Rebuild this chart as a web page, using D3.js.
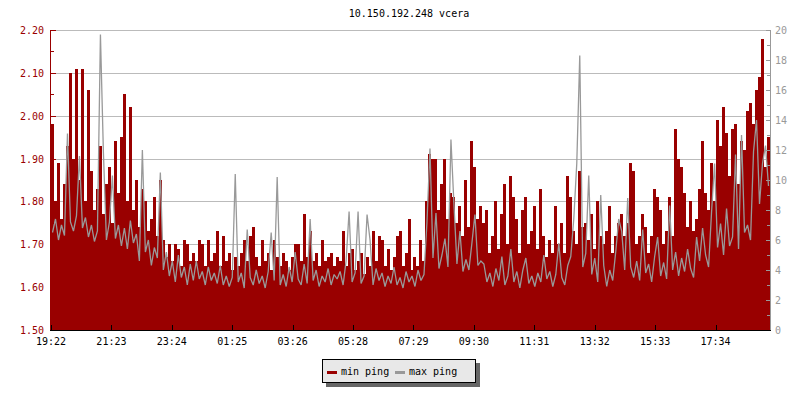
<!DOCTYPE html>
<html>
<head>
<meta charset="utf-8">
<title>10.150.192.248 vcera</title>
<style>
  body { margin: 0; background: #fff; }
  text { font-family: "DejaVu Sans Mono", monospace; font-size: 10px; }
</style>
</head>
<body>
<div id="chart"></div>
<script src="https://cdnjs.cloudflare.com/ajax/libs/d3/7.8.5/d3.min.js"></script>
<script>
// one sample every 6 minutes, starting 19:22
var stepMinutes = 6;

// min ping, ms (left axis)
var minPing = [
  1.98, 1.80, 1.89, 1.76, 1.84, 1.93, 2.10, 1.90, 2.11, 1.85, 2.11, 1.80, 2.06, 1.87, 1.78, 1.83,
  1.93, 1.77, 1.84, 1.88, 1.75, 1.94, 1.82, 1.95, 2.05, 1.80, 2.02, 1.78, 1.85, 1.74, 1.83, 1.80,
  1.73, 1.76, 1.81, 1.72, 1.85, 1.71, 1.67, 1.70, 1.66, 1.70, 1.69, 1.65, 1.71, 1.70, 1.66, 1.68,
  1.66, 1.71, 1.70, 1.65, 1.71, 1.66, 1.68, 1.73, 1.65, 1.72, 1.66, 1.68, 1.64, 1.67, 1.65, 1.68,
  1.71, 1.66, 1.72, 1.74, 1.67, 1.65, 1.71, 1.66, 1.68, 1.64, 1.71, 1.67, 1.65, 1.68, 1.66, 1.64,
  1.67, 1.70, 1.70, 1.66, 1.77, 1.67, 1.73, 1.66, 1.68, 1.65, 1.71, 1.66, 1.67, 1.68, 1.65, 1.67,
  1.66, 1.73, 1.65, 1.68, 1.69, 1.64, 1.66, 1.68, 1.63, 1.67, 1.65, 1.73, 1.66, 1.72, 1.71, 1.65,
  1.69, 1.64, 1.67, 1.72, 1.73, 1.65, 1.68, 1.76, 1.64, 1.67, 1.65, 1.71, 1.66, 1.80, 1.91, 1.90,
  1.90, 1.78, 1.84, 1.90, 1.76, 1.82, 1.81, 1.75, 1.79, 1.72, 1.85, 1.74, 1.94, 1.88, 1.76, 1.79,
  1.75, 1.78, 1.68, 1.72, 1.80, 1.69, 1.77, 1.84, 1.70, 1.86, 1.81, 1.76, 1.68, 1.78, 1.81, 1.70,
  1.73, 1.79, 1.69, 1.83, 1.72, 1.67, 1.71, 1.68, 1.79, 1.70, 1.75, 1.68, 1.86, 1.81, 1.73, 1.70,
  1.87, 1.74, 1.75, 1.71, 1.77, 1.69, 1.80, 1.72, 1.70, 1.73, 1.79, 1.68, 1.72, 1.75, 1.77, 1.72,
  1.75, 1.89, 1.87, 1.70, 1.72, 1.77, 1.74, 1.68, 1.72, 1.83, 1.81, 1.78, 1.70, 1.73, 1.81, 1.72,
  1.97, 1.90, 1.88, 1.82, 1.74, 1.80, 1.73, 1.76, 1.83, 1.94, 1.82, 1.78, 1.89, 1.80, 1.99, 1.93,
  2.02, 1.96, 1.86, 1.97, 1.98, 1.84, 1.94, 1.92, 2.01, 2.03, 1.98, 2.06, 2.09, 2.18, 1.88, 1.95
];

// max ping, ms (right axis)
var maxPing = [
  6.5, 7.4, 6.0, 7.0, 6.3, 13.1, 7.2, 6.6, 7.6, 11.6, 6.8, 7.5, 6.2, 7.0, 5.9, 6.6,
  19.7, 11.8, 6.0, 7.2, 10.3, 6.1, 7.0, 5.6, 6.8, 5.4, 7.3, 5.8, 6.4, 4.6, 12.0, 5.2,
  6.0, 4.3, 5.5, 4.8, 10.5, 4.0, 5.2, 3.6, 4.6, 3.2, 5.0, 3.5, 4.2, 3.0, 4.4, 3.3,
  4.6, 3.4, 3.9, 3.0, 4.2, 3.3, 3.8, 3.1, 4.3, 3.0, 3.6, 2.9, 3.5, 10.4, 3.2, 3.8,
  2.8, 6.7, 3.5, 3.0, 4.0, 3.1, 3.6, 2.8, 3.9, 6.5, 3.3, 10.2, 3.0, 3.7, 2.9, 4.2,
  3.2, 5.2, 3.4, 3.0, 4.4, 3.1, 7.4, 3.3, 4.0, 2.9, 3.6, 3.2, 4.1, 3.0, 3.7, 3.4,
  3.9, 3.0, 4.6, 7.9, 3.2, 3.8, 7.9, 3.1, 3.6, 7.7, 6.0, 3.0, 4.1, 3.3, 3.8, 2.9,
  3.6, 3.1, 4.2, 3.0, 3.5, 2.8, 3.9, 3.2, 3.6, 2.9, 4.0, 3.3, 3.7, 7.2, 12.1, 4.8,
  7.8, 4.1, 5.0, 6.1, 4.2, 12.7, 8.4, 4.4, 6.6, 3.9, 4.7, 4.0, 5.8, 7.7, 4.3, 4.6,
  4.4, 3.2, 3.8, 2.9, 4.1, 3.3, 4.9, 3.0, 3.6, 5.4, 3.2, 3.9, 2.8, 4.0, 4.8, 3.1,
  3.6, 2.9, 3.8, 3.2, 5.0, 3.4, 3.9, 2.9, 3.7, 5.8, 3.5, 3.0, 4.3, 4.9, 7.4, 11.1,
  18.3, 4.2, 5.1, 10.3, 3.7, 4.8, 3.2, 9.0, 4.3, 2.9, 4.0, 3.3, 5.2, 7.4, 6.6, 4.0,
  8.8, 4.2, 3.5, 4.6, 3.3, 6.7, 3.8, 4.4, 3.2, 4.9, 6.2, 3.6, 4.5, 3.4, 8.3, 4.0,
  5.2, 3.6, 4.8, 3.9, 5.4, 4.1, 3.5, 6.2, 4.6, 6.8, 5.0, 4.2, 7.9, 11.1, 5.5, 7.1,
  5.0, 8.1, 5.6, 6.2, 11.7, 5.4, 13.0, 6.5, 7.0, 6.0, 11.9, 14.0, 8.4, 11.1, 12.3, 9.6
];

// x axis: minutes after 19:22, one label every 121 minutes
var timeTickMinutes = [0, 121, 242, 363, 484, 605, 726, 847, 968, 1089, 1210, 1331];
var timeTickLabels = ["19:22", "21:23", "23:24", "01:25", "03:26", "05:28",
                      "07:29", "09:30", "11:31", "13:32", "15:33", "17:34"];
var leftTicks = [1.50, 1.60, 1.70, 1.80, 1.90, 2.00, 2.10, 2.20];
var rightTicks = [0, 2, 4, 6, 8, 10, 12, 14, 16, 18, 20];
var seriesNames = ["min ping", "max ping"];

var width = 800, height = 400;
var plotL = 51, plotR = 770, plotT = 30, plotB = 330;
var red = "#990000", grey = "#999999";

var svg = d3.select("#chart").append("svg")
  .attr("width", width).attr("height", height);

var x = d3.scaleLinear().domain([0, 1440]).range([plotL, plotR]);
var yL = d3.scaleLinear().domain([1.5, 2.2]).range([plotB, plotT]);
var yR = d3.scaleLinear().domain([0, 20]).range([plotB, plotT]);

// title
svg.append("text").attr("x", 409).attr("y", 17)
  .attr("text-anchor", "middle").attr("fill", "#000")
  .text("10.150.192.248 vcera");

// grid
svg.append("g").selectAll("line").data(leftTicks.slice(1)).enter().append("line")
  .attr("x1", plotL).attr("x2", plotR)
  .attr("y1", function(d) { return Math.round(yL(d)) + 0.5; })
  .attr("y2", function(d) { return Math.round(yL(d)) + 0.5; })
  .attr("stroke", "#bbbbbb").attr("stroke-width", 1)
  .attr("shape-rendering", "crispEdges");

// build points, last one repeated so the final step has width
function pts(arr) {
  var p = arr.map(function(v, i) { return { t: i * stepMinutes, v: v }; });
  p.push({ t: arr.length * stepMinutes, v: arr[arr.length - 1] });
  return p;
}

var minPts = pts(minPing);
var maxPts = maxPing.map(function(v, i) { return { t: (i + 0.5) * stepMinutes, v: v }; });

svg.append("path").datum(minPts)
  .attr("fill", red).attr("shape-rendering", "crispEdges")
  .attr("d", d3.area().curve(d3.curveStepAfter)
    .x(function(d) { return x(d.t); })
    .y0(plotB)
    .y1(function(d) { return yL(d.v); }));

svg.append("path").datum(maxPts)
  .attr("fill", "none").attr("stroke", grey).attr("stroke-width", 1.3)
  .attr("stroke-linejoin", "miter").attr("stroke-miterlimit", 2)
  .attr("d", d3.line()
    .x(function(d) { return x(d.t); })
    .y(function(d) { return yR(d.v); }));

// left axis (red)
var gl = svg.append("g").attr("shape-rendering", "crispEdges");
gl.append("line").attr("x1", plotL - 0.5).attr("x2", plotL - 0.5)
  .attr("y1", plotT).attr("y2", plotB).attr("stroke", red);
d3.range(0, 15).forEach(function(i) {
  var yy = Math.round(yL(1.5 + i * 0.05)) + 0.5;
  gl.append("line").attr("x1", plotL).attr("x2", plotL + (i % 2 === 0 ? 5 : 3))
    .attr("y1", yy).attr("y2", yy).attr("stroke", red);
});
gl.selectAll("text").data(leftTicks).enter().append("text")
  .attr("x", 44).attr("y", function(d) { return yL(d) + 4; })
  .attr("text-anchor", "end").attr("fill", red)
  .text(function(d) { return d.toFixed(2); });

// right axis (grey)
var gr = svg.append("g").attr("shape-rendering", "crispEdges");
gr.append("line").attr("x1", plotR + 0.5).attr("x2", plotR + 0.5)
  .attr("y1", plotT).attr("y2", plotB).attr("stroke", grey);
d3.range(0, 21).forEach(function(v) {
  var yy = Math.round(yR(v)) + 0.5;
  gr.append("line").attr("x1", plotR - (v % 2 === 0 ? 4 : 3)).attr("x2", plotR)
    .attr("y1", yy).attr("y2", yy).attr("stroke", grey);
});
gr.selectAll("text").data(rightTicks).enter().append("text")
  .attr("x", 775).attr("y", function(d) { return yR(d) + 4; })
  .attr("fill", grey)
  .text(function(d) { return d; });

// bottom axis (black)
var gb = svg.append("g").attr("shape-rendering", "crispEdges");
gb.append("line").attr("x1", plotL - 1).attr("x2", plotR + 1)
  .attr("y1", plotB + 0.5).attr("y2", plotB + 0.5).attr("stroke", "#000");
gb.selectAll("line.tick").data(timeTickMinutes).enter().append("line")
  .attr("class", "tick")
  .attr("x1", function(d) { return Math.round(x(d)) + 0.5; })
  .attr("x2", function(d) { return Math.round(x(d)) + 0.5; })
  .attr("y1", plotB - 5).attr("y2", plotB).attr("stroke", "#000");
gb.selectAll("text").data(timeTickMinutes).enter().append("text")
  .attr("x", function(d) { return x(d); }).attr("y", 345)
  .attr("text-anchor", "middle").attr("fill", "#000")
  .text(function(d, i) { return timeTickLabels[i]; });

// legend
var lg = svg.append("g").attr("shape-rendering", "crispEdges");
lg.append("rect").attr("x", 326).attr("y", 363).attr("width", 154).attr("height", 24)
  .attr("fill", "#666666");
lg.append("rect").attr("x", 322.5).attr("y", 359.5).attr("width", 153).attr("height", 23)
  .attr("fill", "#e8e8e8").attr("stroke", "#000");
var legendX = [327, 395];
seriesNames.forEach(function(name, i) {
  lg.append("rect").attr("x", legendX[i]).attr("y", 371).attr("width", 10).attr("height", 3)
    .attr("fill", i === 0 ? red : grey);
  lg.append("text").attr("x", legendX[i] + 14).attr("y", 375)
    .attr("fill", "#000").text(name);
});
</script>
</body>
</html>
